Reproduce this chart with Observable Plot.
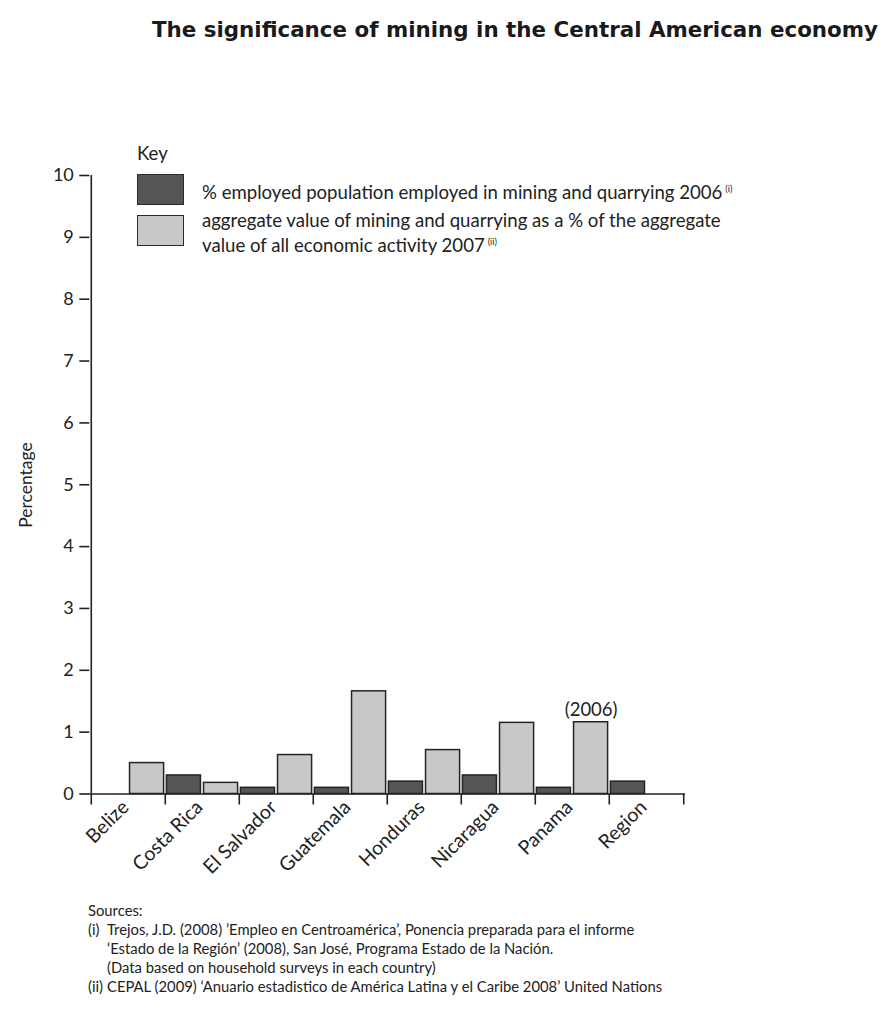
<!DOCTYPE html>
<html>
<head>
<meta charset="utf-8">
<script src="https://cdn.jsdelivr.net/npm/d3@7"></script>
<script src="https://cdn.jsdelivr.net/npm/@observablehq/plot@0.6"></script>
<style>
  html, body { margin: 0; padding: 0; background: #fff; }
  body { width: 887px; height: 1024px; font-family: Lato, "Open Sans", sans-serif; color: #222; }
  #wrap { position: relative; width: 887px; height: 1024px; }
  #title { position: absolute; right: 9px; top: 17px; font-family: "DejaVu Sans", sans-serif; font-weight: bold; font-size: 21.4px; white-space: nowrap; color: #1a1a1a; }
  #chart { position: absolute; left: 0; top: 60px; }
  #key { position: absolute; left: 137px; top: 142px; font-size: 18.6px; color: #222; }
  #key .row { position: absolute; left: 0; white-space: nowrap; }
  #key .sw { position: absolute; left: 0; width: 45px; height: 29px; border: 1.6px solid #2a2a2a; }
  #key .txt { position: absolute; left: 65px; line-height: 22px; white-space: nowrap; }
  #key sup { font-size: 9px; vertical-align: 7px; margin-left: 3px; }
  #ylab { position: absolute; left: 25px; top: 485px; transform: translate(-50%, -50%) rotate(-90deg); font-size: 17.5px; white-space: nowrap; }
  #src { position: absolute; left: 88px; top: 901px; font-size: 14.8px; line-height: 19px; color: #222; }
  #src .it { position: relative; padding-left: 19px; white-space: nowrap; }
  #src .it span.n { position: absolute; left: 0; }
</style>
</head>
<body>
<div id="wrap">
  <div id="title">The significance of mining in the Central American economy</div>
  <div id="chart"></div>
  <div id="ylab">Percentage</div>
  <div id="key"></div>
  <div id="src"></div>
</div>
<script>
// ---- data ----
const countries = ["Belize", "Costa Rica", "El Salvador", "Guatemala", "Honduras", "Nicaragua", "Panama", "Region"];
const employedMining = [null, 0.3, 0.1, 0.1, 0.2, 0.3, 0.1, 0.2];      // % employed population in mining & quarrying 2006
const aggregateValue = [0.5, 0.18, 0.63, 1.66, 0.71, 1.15, 1.16, null]; // value of mining & quarrying as % of all activity 2007
const yTicks = [0, 1, 2, 3, 4, 5, 6, 7, 8, 9, 10];
const noteCountry = "Panama";
const noteText = "(2006)";
const seriesLabels = [
  "% employed population employed in mining and quarrying 2006",
  "aggregate value of mining and quarrying as a % of the aggregate",
  "value of all economic activity 2007"
];
const seriesNotes = ["(i)", "(ii)"];
const sources = [
  ["", "Sources:"],
  ["(i)", "Trejos, J.D. (2008) \u2019Empleo en Centroam\u00e9rica\u2019, Ponencia preparada para el informe"],
  ["", "\u2018Estado de la Regi\u00f3n\u2019 (2008), San Jos\u00e9, Programa Estado de la Naci\u00f3n."],
  ["", "(Data based on household surveys in each country)"],
  ["(ii)", "CEPAL (2009) \u2018Anuario estadistico de Am\u00e9rica Latina y el Caribe 2008\u2019 United Nations"]
];

// ---- tables ----
const darkRows = countries.map((c, i) => ({country: c, value: employedMining[i]})).filter(d => d.value != null);
const lightRows = countries.map((c, i) => ({country: c, value: aggregateValue[i]})).filter(d => d.value != null);
const noteRows = [{country: noteCountry, value: aggregateValue[countries.indexOf(noteCountry)], text: noteText}];

const W = 887, H = 830, ML = 89.3, MR = 202, MT = 115, MB = 96.5;
const bw = (W - ML - MR) / countries.length;
const DARK = "#555555", LIGHT = "#c8c8c8", EDGE = "#242424";
const font = "Lato, 'Open Sans', sans-serif";

const plot = Plot.plot({
  width: W, height: H,
  marginLeft: ML, marginRight: MR, marginTop: MT, marginBottom: MB,
  style: {fontFamily: font, color: "#222", background: "transparent"},
  x: {type: "band", domain: countries, padding: 0, axis: null},
  y: {domain: [0, 10], axis: null},
  marks: [
    Plot.rectY(darkRows, {x: "country", y: "value", fill: DARK, stroke: EDGE, strokeWidth: 1.5,
      insetLeft: 1.4, insetRight: bw / 2 + 1.3}),
    Plot.rectY(lightRows, {x: "country", y: "value", fill: LIGHT, stroke: EDGE, strokeWidth: 1.5,
      insetLeft: bw / 2 + 1.3, insetRight: 1.4}),
    Plot.text(noteRows, {x: "country", y: "value", text: "text", dx: bw / 4, dy: -6, lineAnchor: "bottom",
      fontSize: 18.5, fill: "#222"}),
    // x baseline
    Plot.ruleY([0], {stroke: "#222", strokeWidth: 1.6}),
    // y axis line
    Plot.ruleX([countries[0]], {y1: 0, y2: 10, dx: -bw / 2, stroke: "#222", strokeWidth: 1.6}),
    // y ticks + labels
    Plot.axisY(yTicks, {tickSize: 10, tickPadding: 6, tickFormat: d3.format("d"), fontSize: 18, label: null,
      stroke: "#222", strokeWidth: 1.6, fill: "#222"}),
    // x boundary ticks
    Plot.axisX(countries, {tickSize: 11, tickFormat: () => "", dx: -bw / 2, stroke: "#222", strokeWidth: 1.6, label: null}),
    Plot.axisX([countries[countries.length - 1]], {tickSize: 11, tickFormat: () => "", dx: bw / 2, stroke: "#222", strokeWidth: 1.6, label: null}),
    // x labels
    Plot.axisX(countries, {tickSize: 0, tickPadding: 10, tickRotate: -45, fontSize: 19.5, dx: -3, label: null, fill: "#222"})
  ]
});
document.getElementById("chart").appendChild(plot);

// ---- key ----
const key = document.getElementById("key");
key.innerHTML =
  `<div class="row" style="top:0">Key</div>` +
  `<div class="sw" style="top:32px;background:${DARK}"></div>` +
  `<div class="txt" style="top:36px">${seriesLabels[0]}<sup>${seriesNotes[0]}</sup></div>` +
  `<div class="sw" style="top:73px;background:${LIGHT}"></div>` +
  `<div class="txt" style="top:67px">${seriesLabels[1]}<br>${seriesLabels[2]}<sup>${seriesNotes[1]}</sup></div>`;

// ---- sources ----
const src = document.getElementById("src");
src.innerHTML = sources.map(([n, t]) => n === "" && t === "Sources:"
  ? `<div>${t}</div>`
  : `<div class="it"><span class="n">${n}</span>${t}</div>`).join("");
</script>
</body>
</html>
